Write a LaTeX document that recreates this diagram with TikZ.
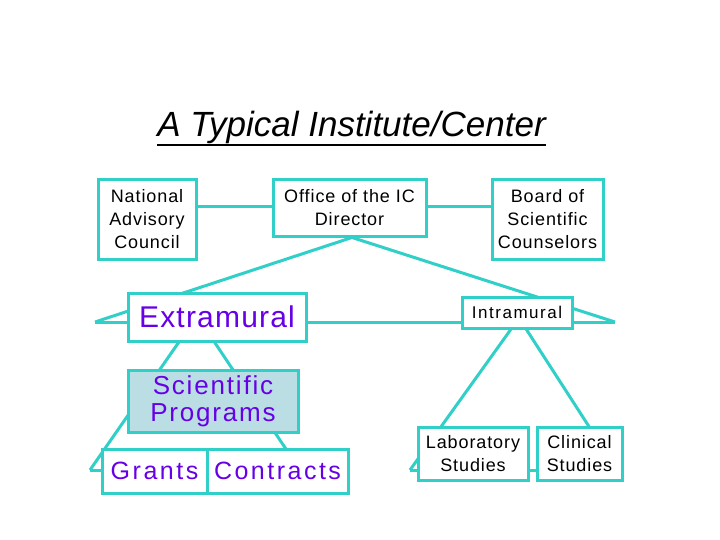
\documentclass[tikz,border=0pt]{standalone}
\usepackage{fontspec}
\setmainfont{Liberation Sans}
\usepackage{xcolor}
\definecolor{turq}{RGB}{48,208,200}
\definecolor{purp}{RGB}{102,0,230}
\definecolor{scifill}{RGB}{187,222,228}
\begin{document}
\begin{tikzpicture}[x=1pt,y=-1pt,
  conn/.style={draw=turq,line width=3pt},
  orgbox/.style={draw=turq,line width=3pt,fill=white,inner sep=0pt,align=center,anchor=center},
  smalltxt/.style={font=\fontsize{18}{23}\selectfont\addfontfeatures{LetterSpace=5}}
]
\useasboundingbox (0,0) rectangle (720,540);
\fill[white] (0,0) rectangle (720,540);

% title
\node[inner sep=0pt,anchor=base,font=\fontsize{35}{40}\selectfont\itshape] (title) at (351.5,137) {A Typical Institute/Center};
\draw[line width=2pt] ([yshift=-8pt]title.base west) -- ([yshift=-8pt]title.base east);

% coordinates for connector tips
\coordinate (oa) at (352,237.5);
\coordinate (tl) at (95,322);
\coordinate (tr) at (615,322);
\coordinate (ea) at (197,316);
\coordinate (sl) at (90,470);
\coordinate (sr) at (300,470);
\coordinate (ia) at (519,318);
\coordinate (ll) at (410,470);
\coordinate (lr) at (617,470);

% connectors (behind boxes)
\draw[conn] (oa) -- (tl);
\draw[conn] (oa) -- (tr);
\draw[conn] (tl) -- (tr);
\draw[conn] (ea) -- (sl);
\draw[conn] (ea) -- (sr);
\draw[conn] (sl) -- (sr);
\draw[conn] (ia) -- (ll);
\draw[conn] (ia) -- (lr);
\draw[conn] (ll) -- (lr);

% top boxes
\node[orgbox,smalltxt,minimum width=98pt,minimum height=79pt] (nac) at (147,219.5) {National\\Advisory\\Council};
\node[orgbox,smalltxt,minimum width=153pt,minimum height=56pt] (office) at (349.5,208) {Office of the IC\\Director};
\node[orgbox,smalltxt,minimum width=111pt,minimum height=79pt] (board) at (547.5,219.5) {Board of\\Scientific\\Counselors};
\draw[conn] (nac.east |- 0,207) -- (office.west |- 0,207);
\draw[conn] (office.east |- 0,207) -- (board.west |- 0,207);

% second level
\node[orgbox,minimum width=178pt,minimum height=48pt,font=\fontsize{30}{32}\selectfont\addfontfeatures{LetterSpace=4},text=purp] (extra) at (217,317) {Extramural};
\node[orgbox,minimum width=110pt,minimum height=31pt,font=\fontsize{17}{20}\selectfont\addfontfeatures{LetterSpace=9}] (intra) at (517,312.5) {Intramural};

% third level
\node[orgbox,fill=scifill,minimum width=170pt,minimum height=62pt,font=\fontsize{26}{27}\selectfont\addfontfeatures{LetterSpace=7},text=purp] (sci) at (213,401) {\raisebox{-2pt}{Scientific}\\\raisebox{-2pt}{Programs}};

\node[orgbox,minimum width=105pt,minimum height=44pt,font=\fontsize{25}{27}\selectfont\addfontfeatures{LetterSpace=10},text=purp] (grants) at (154.5,471) {Grants};
\node[orgbox,minimum width=141pt,minimum height=44pt,font=\fontsize{25}{27}\selectfont\addfontfeatures{LetterSpace=10},text=purp] (contracts) at (277.5,471) {Contracts};

\node[orgbox,smalltxt,minimum width=110pt,minimum height=53pt] (lab) at (473,453.5) {Laboratory\\Studies};
\node[orgbox,smalltxt,minimum width=85pt,minimum height=53pt] (clin) at (579.5,453.5) {Clinical\\Studies};
\end{tikzpicture}
\end{document}
